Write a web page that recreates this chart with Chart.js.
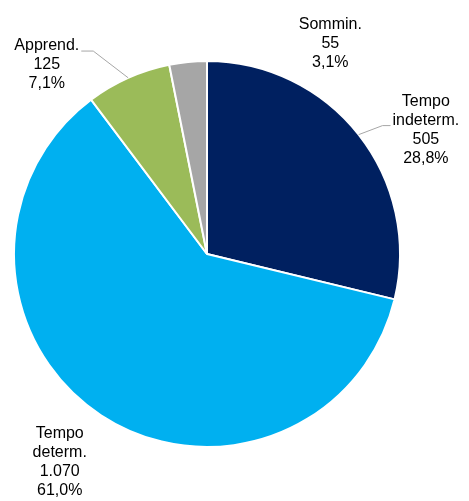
<!DOCTYPE html>
<html lang="it">
<head>
    <meta charset="UTF-8">
    <title>Contratti</title>
    <script src="https://cdn.jsdelivr.net/npm/chart.js@4.4.1/dist/chart.umd.min.js"></script>
    <style>
        html, body { margin: 0; padding: 0; background: #fff; }
        #wrap { width: 469px; height: 501px; position: relative; }
    </style>
</head>
<body>
<div id="wrap"><canvas id="pie"></canvas></div>
<script>
    // data
    const categories = [['Tempo', 'indeterm.'], ['Tempo', 'determ.'], ['Apprend.'], ['Sommin.']];
    const values = [505, 1070, 125, 55];
    const colors = ['#002060', '#00B0F0', '#9BBB59', '#A6A6A6'];

    // label block placement, in units of the pie radius from its centre
    const labelOffsets = [[1.134, -0.642], [-0.763, 1.080], [-0.830, -0.979], [0.639, -1.090]];
    // leader line: which text line it points to and from which side (null = none)
    const leaders = [{ line: 1, side: 'left' }, null, { line: 0, side: 'right' }, null];

    const total = values.reduce((a, b) => a + b, 0);
    const fmtNum = v => String(v).replace(/\B(?=(\d{3})+(?!\d))/g, '.');
    const fmtPct = v => (v / total * 100).toFixed(1).replace('.', ',') + '%';

    const lineH = 19;

    const labelPlugin = {
        id: 'pieLabels',
        afterDatasetsDraw(chart) {
            const ctx = chart.ctx;
            const arcs = chart.getDatasetMeta(0).data;
            ctx.save();
            ctx.font = '16px "Liberation Sans", Arial, sans-serif';
            ctx.fillStyle = '#000';
            ctx.textAlign = 'center';
            ctx.textBaseline = 'middle';
            arcs.forEach((arc, i) => {
                const { x, y, outerRadius, startAngle, endAngle } = arc.getProps(['x', 'y', 'outerRadius', 'startAngle', 'endAngle'], true);
                const lines = [...categories[i], fmtNum(values[i]), fmtPct(values[i])];
                const cx = x + labelOffsets[i][0] * outerRadius;
                const cy = y + labelOffsets[i][1] * outerRadius;
                const top = cy - (lines.length - 1) * lineH / 2;
                lines.forEach((t, k) => ctx.fillText(t, cx, top + k * lineH));

                const ld = leaders[i];
                if (ld) {
                    const mid = (startAngle + endAngle) / 2;
                    const ex = x + Math.cos(mid) * outerRadius;
                    const ey = y + Math.sin(mid) * outerRadius;
                    const w = ctx.measureText(lines[ld.line]).width;
                    const ly = top + ld.line * lineH + 5;
                    const tx = ld.side === 'left' ? cx - w / 2 - 2 : cx + w / 2 + 2;
                    const kx = ld.side === 'left' ? tx - 8 : tx + 12;
                    ctx.strokeStyle = '#A6A6A6';
                    ctx.lineWidth = 1;
                    ctx.beginPath();
                    ctx.moveTo(ex, ey);
                    ctx.lineTo(kx, ly);
                    ctx.lineTo(tx, ly);
                    ctx.stroke();
                }
            });
            ctx.restore();
        }
    };

    new Chart(document.getElementById('pie'), {
        type: 'pie',
        data: {
            labels: categories.map(c => c.join(' ')),
            datasets: [{
                data: values,
                backgroundColor: colors,
                borderColor: '#ffffff',
                borderWidth: 2
            }]
        },
        options: {
            responsive: true,
            maintainAspectRatio: false,
            animation: false,
            layout: { padding: { left: 13, right: 68, top: 60, bottom: 53 } },
            plugins: {
                legend: { display: false },
                tooltip: { enabled: false }
            }
        },
        plugins: [labelPlugin]
    });
</script>
</body>
</html>
